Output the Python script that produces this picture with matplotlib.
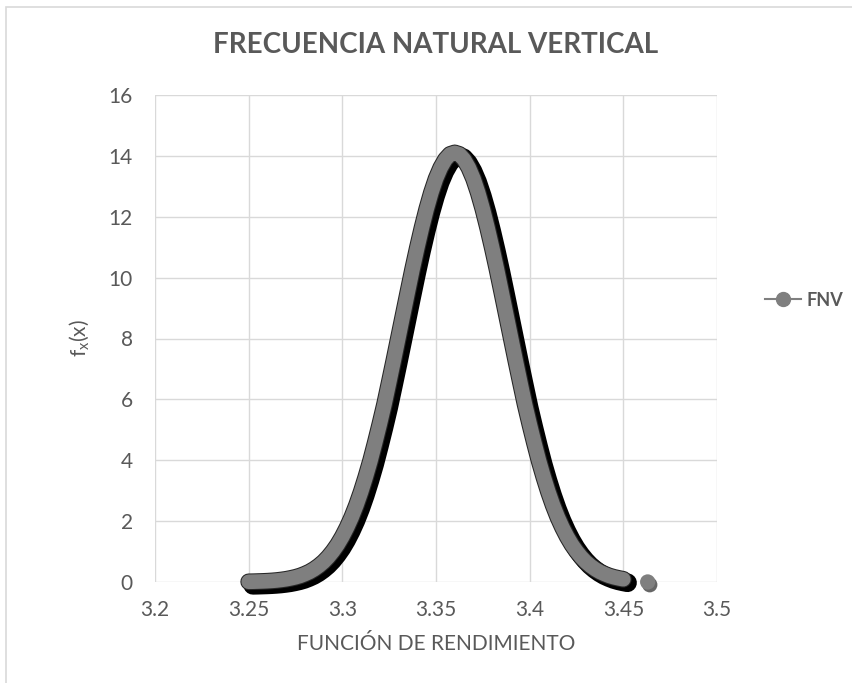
import matplotlib
matplotlib.use('Agg')
import matplotlib.pyplot as plt
import matplotlib.patheffects as pe
from matplotlib.lines import Line2D
from matplotlib.patches import Rectangle

plt.rcParams['font.family'] = ['Lato', 'DejaVu Sans']
plt.rcParams['mathtext.fontset'] = 'custom'
plt.rcParams['mathtext.rm'] = 'Lato'

# datos
fnv_x = [3.2500, 3.2525, 3.2550, 3.2575, 3.2600, 3.2625, 3.2650, 3.2675, 3.2700, 3.2725,
         3.2750, 3.2775, 3.2800, 3.2825, 3.2850, 3.2875, 3.2900, 3.2925, 3.2950, 3.2975,
         3.3000, 3.3025, 3.3050, 3.3075, 3.3100, 3.3125, 3.3150, 3.3175, 3.3200, 3.3225,
         3.3250, 3.3275, 3.3300, 3.3325, 3.3350, 3.3375, 3.3400, 3.3425, 3.3450, 3.3475,
         3.3500, 3.3525, 3.3550, 3.3575, 3.3600, 3.3625, 3.3650, 3.3675, 3.3700, 3.3725,
         3.3750, 3.3775, 3.3800, 3.3825, 3.3850, 3.3875, 3.3900, 3.3925, 3.3950, 3.3975,
         3.4000, 3.4025, 3.4050, 3.4075, 3.4100, 3.4125, 3.4150, 3.4175, 3.4200, 3.4225,
         3.4250, 3.4275, 3.4300, 3.4325, 3.4350, 3.4375, 3.4400, 3.4425, 3.4450, 3.4475,
         3.4500, 3.4630]
fnv_y = [0.007, 0.010, 0.015, 0.020, 0.027, 0.037, 0.050, 0.068, 0.090, 0.12,
         0.155, 0.20, 0.26, 0.33, 0.42, 0.53, 0.66, 0.82, 1.01, 1.23,
         1.49, 1.79, 2.13, 2.52, 2.96, 3.45, 3.98, 4.57, 5.19, 5.84,
         6.56, 7.29, 8.04, 8.79, 9.54, 10.28, 10.98, 11.64, 12.25, 12.79,
         13.25, 13.61, 13.88, 14.05, 14.10, 14.05, 13.88, 13.61, 13.25, 12.79,
         12.25, 11.64, 10.98, 10.28, 9.54, 8.79, 8.04, 7.29, 6.56, 5.84,
         5.19, 4.57, 3.98, 3.45, 2.96, 2.52, 2.13, 1.79, 1.49, 1.23,
         1.01, 0.82, 0.66, 0.53, 0.42, 0.33, 0.26, 0.20, 0.155, 0.12,
         0.090, 0.001]

x_ticks = [3.2, 3.25, 3.3, 3.35, 3.4, 3.45, 3.5]
x_labels = ['3.2', '3.25', '3.3', '3.35', '3.4', '3.45', '3.5']
y_ticks = [0, 2, 4, 6, 8, 10, 12, 14, 16]

gris = '#7f7f7f'
texto = '#595959'

fig = plt.figure(figsize=(8.52, 6.83), dpi=100)
fig.patches.append(Rectangle((6/852, -0.1), 2, 1.1 - 7/683, transform=fig.transFigure,
                             fill=False, edgecolor='#d9d9d9', lw=1.2))
ax = fig.add_axes([155/852, 1 - 582/683, 562/852, 487/683])

# marcadores con sombra (visibles en las colas)
ax.plot(fnv_x, fnv_y, 'o', color=gris, ms=11, mew=0, zorder=2, clip_on=False,
        path_effects=[pe.SimplePatchShadow(offset=(1.5, -2), shadow_rgbFace='black', alpha=0.6),
                      pe.Normal()])
# banda gruesa con sombra (los marcadores se solapan en el original)
efectos = [pe.SimpleLineShadow(offset=(3, -2.5), shadow_color='black', alpha=1.0, linewidth=13.5),
           pe.Stroke(linewidth=12, foreground='#262626'),
           pe.Normal()]
ax.plot(fnv_x[:-1], fnv_y[:-1], color=gris, lw=10.5, solid_capstyle='round',
        solid_joinstyle='round', path_effects=efectos, zorder=3, clip_on=False)

ax.set_xlim(3.2, 3.5)
ax.set_ylim(0, 16)
ax.set_xticks(x_ticks)
ax.set_xticklabels(x_labels)
ax.set_yticks(y_ticks)
ax.grid(True, color='#d9d9d9', lw=1)
ax.set_axisbelow(True)
for s in ax.spines.values():
    s.set_visible(False)
ax.tick_params(axis='y', length=0, labelsize=15, labelcolor=texto, pad=16)
ax.tick_params(axis='x', length=0, labelsize=15, labelcolor=texto, pad=13)

ax.set_title('FRECUENCIA NATURAL VERTICAL', fontsize=20, fontweight='bold', color=texto, pad=30)
ax.set_xlabel('FUNCIÓN DE RENDIMIENTO', fontsize=15, color=texto, labelpad=10)
ax.set_ylabel(r'f$_{\mathregular{x}}$(x)', fontsize=15, color=texto, labelpad=12)

h = Line2D([], [], color=gris, lw=1.5, marker='o', ms=10)
fig.legend([h], ['FNV'], loc='center left', bbox_to_anchor=(765/852, 1 - 300/683),
           frameon=False, prop={'weight': 'bold', 'size': 13}, labelcolor=texto,
           handlelength=2.0, handletextpad=0.3, borderpad=0, borderaxespad=0)

fig.savefig('out.png', dpi=100)
